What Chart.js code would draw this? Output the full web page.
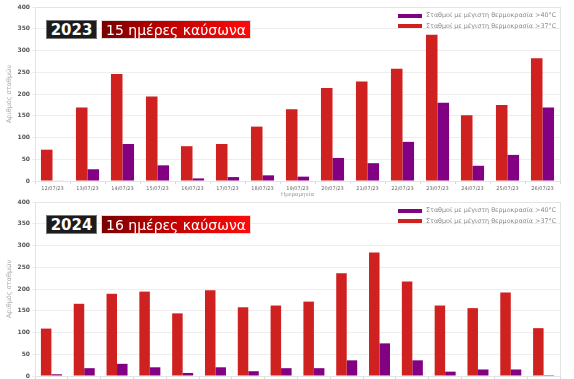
<!DOCTYPE html>
<html>
<head>
<meta charset="utf-8">
<script src="https://cdn.jsdelivr.net/npm/chart.js@4.4.1/dist/chart.umd.min.js"></script>
<style>
  html, body { margin:0; padding:0; background:#fff; width:574px; height:379px; overflow:hidden; position:relative; font-family:"DejaVu Sans", sans-serif; }
  .wrap { position:absolute; left:0; width:574px; height:198px; }
  .badge { position:absolute; height:19px; line-height:19px; color:#fff; text-align:center; box-sizing:border-box; }
  .b-year { background:#1c1c1c; font-weight:bold; font-size:15px; border:1px solid #777; }
  .b-days { background:linear-gradient(to right, #7a0000, #c00000 45%, #ff0a0a); font-size:14px; border:1px solid #ddd; }
  .leg { position:absolute; font-size:6.4px; color:#8a8a8a; white-space:nowrap; }
  .sw { position:absolute; width:24px; height:4px; }
</style>
</head>
<body>
<script>
// ---- data ----
const categories2023 = ["12/07/23","13/07/23","14/07/23","15/07/23","16/07/23","17/07/23","18/07/23","19/07/23","20/07/23","21/07/23","22/07/23","23/07/23","24/07/23","25/07/23","26/07/23"];
const over37_2023 = [72, 169, 246, 194, 80, 85, 125, 165, 214, 229, 258, 336, 151, 175, 282];
const over40_2023 = [1, 27, 85, 36, 6, 9, 13, 10, 53, 41, 90, 180, 35, 60, 169];

const categories2024 = ["11/06/24","12/06/24","13/06/24","14/06/24","08/07/24","09/07/24","10/07/24","11/07/24","12/07/24","13/07/24","14/07/24","15/07/24","16/07/24","17/07/24","18/07/24","19/07/24"];
const over37_2024 = [109, 166, 189, 194, 144, 197, 158, 162, 171, 236, 284, 217, 162, 156, 192, 110];
const over40_2024 = [4, 18, 28, 20, 7, 20, 11, 18, 18, 36, 75, 36, 10, 15, 15, 2];

const yTicks = [0, 50, 100, 150, 200, 250, 300, 350, 400];

const label37 = "Σταθμοί με μέγιστη θερμοκρασία >37°C";
const label40 = "Σταθμοί με μέγιστη θερμοκρασία >40°C";
const RED = "#cf211f";
const PURPLE = "#820082";

const charts = [
  { top: 0, year: "2023", days: "15 ημέρες καύσωνα", cats: categories2023, d37: over37_2023, d40: over40_2023, cp: 0.66 },
  { top: 195, year: "2024", days: "16 ημέρες καύσωνα", cats: categories2024, d37: over37_2024, d40: over40_2024, cp: 0.64 }
];

const plotBorder = {
  id: 'plotBorder',
  beforeDatasetsDraw(chart) {
    const { ctx, chartArea: a } = chart;
    ctx.save();
    ctx.strokeStyle = '#e4e4e4';
    ctx.lineWidth = 1;
    ctx.strokeRect(a.left + 0.5, a.top + 0.5, a.right - a.left, a.bottom - a.top);
    ctx.restore();
  }
};

charts.forEach(cfg => {
  const wrap = document.createElement('div');
  wrap.className = 'wrap';
  wrap.style.top = cfg.top + 'px';
  const cv = document.createElement('canvas');
  cv.width = 574; cv.height = 198;
  wrap.appendChild(cv);
  document.body.appendChild(wrap);

  new Chart(cv, {
    type: 'bar',
    data: {
      labels: cfg.cats,
      datasets: [
        { label: label37, data: cfg.d37, backgroundColor: RED, categoryPercentage: cfg.cp, barPercentage: 1.0 },
        { label: label40, data: cfg.d40, backgroundColor: PURPLE, categoryPercentage: cfg.cp, barPercentage: 1.0 }
      ]
    },
    options: {
      responsive: false,
      animation: false,
      layout: { padding: { top: 7, right: 14, left: 5, bottom: 0 } },
      plugins: { legend: { display: false }, tooltip: { enabled: false } },
      scales: {
        x: {
          offset: true,
          grid: { display: true, drawOnChartArea: false, tickLength: 3, color: '#d8d8d8' },
          border: { display: true, color: '#e0e0e0' },
          ticks: { font: { family: 'DejaVu Sans', size: 5 }, color: '#666', padding: 2, maxRotation: 0, autoSkip: false },
          title: { display: true, text: 'Ημερομηνία', font: { family: 'DejaVu Sans', size: 5.5 }, color: '#999', padding: 0 },
          afterFit(s) { s.height = 17; }
        },
        y: {
          min: 0, max: 400,
          afterBuildTicks(s) { s.ticks = yTicks.map(v => ({ value: v })); },
          grid: { color: '#eeeeee', tickLength: 3, drawTicks: true },
          border: { display: false },
          ticks: { font: { family: 'DejaVu Sans', size: 6, weight: 'bold' }, color: '#555', padding: 2 },
          title: { display: true, text: 'Αριθμός σταθμών', font: { family: 'DejaVu Sans', size: 6.5 }, color: '#aaa', padding: 0 },
          afterFit(s) { s.width = 30; }
        }
      }
    },
    plugins: [plotBorder]
  });

  // title badges
  const by = document.createElement('div');
  by.className = 'badge b-year';
  by.style.left = '46px'; by.style.top = (cfg.top + 20) + 'px'; by.style.width = '51px';
  by.textContent = cfg.year;
  document.body.appendChild(by);
  const bd = document.createElement('div');
  bd.className = 'badge b-days';
  bd.style.left = '101px'; bd.style.top = (cfg.top + 20) + 'px'; bd.style.width = '150px';
  bd.textContent = cfg.days;
  document.body.appendChild(bd);

  // legend (purple first, as in the reference)
  [[PURPLE, label40, 15.5], [RED, label37, 26]].forEach(([col, txt, cy]) => {
    const sw = document.createElement('div');
    sw.className = 'sw';
    sw.style.left = '398px'; sw.style.top = (cfg.top + cy - 2) + 'px'; sw.style.background = col;
    document.body.appendChild(sw);
    const t = document.createElement('div');
    t.className = 'leg';
    t.style.left = '426px'; t.style.top = (cfg.top + cy - 4.5) + 'px';
    t.textContent = txt;
    document.body.appendChild(t);
  });
});
</script>
</body>
</html>
